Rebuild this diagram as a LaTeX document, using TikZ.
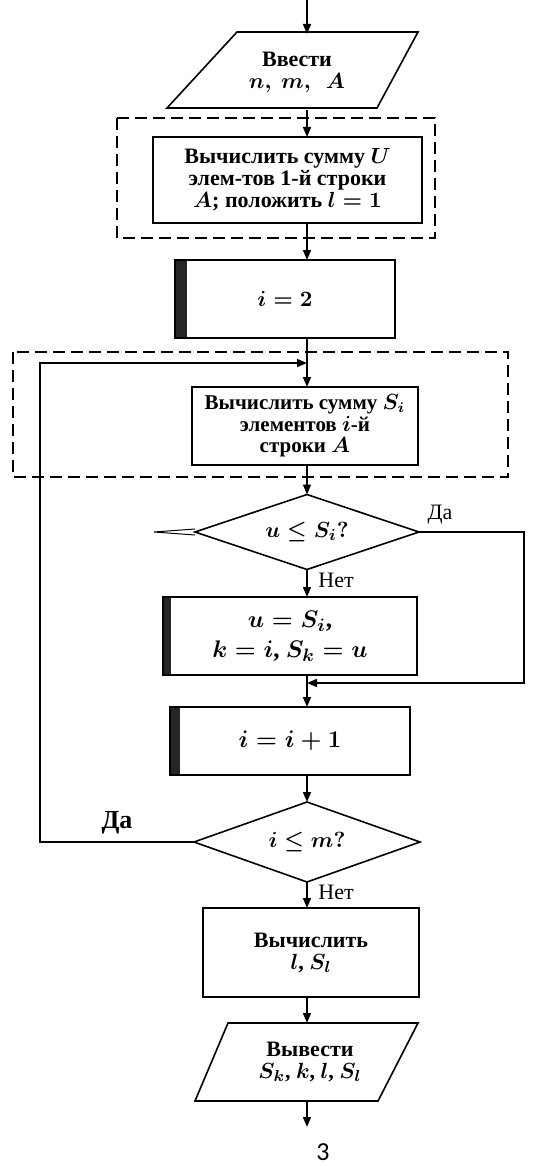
\documentclass[tikz,border=0pt]{standalone}
\usepackage{fontspec}
\setmainfont{Liberation Serif}
\newfontfamily\pagefont{Carlito}
\usepackage{amsmath,amssymb}
\usetikzlibrary{positioning,calc,arrows.meta,shapes.geometric}

\begin{document}
\begin{tikzpicture}[x=0.5pt, y=-0.5pt, ->, >={Triangle[length=5pt,width=4pt]}, line width=0.8pt, every node/.style={font=\fontsize{11}{11}\selectfont\bfseries\boldmath}, blk/.style={rectangle, draw, align=center, inner sep=0pt, outer sep=0pt}, dark/.style={blk, path picture={\fill[black!85] (path picture bounding box.north west) rectangle ([xshift=#1]path picture bounding box.south west);}}, dark/.default=4pt, cond/.style={diamond, draw, aspect=3, inner sep=0pt, outer sep=0pt}, frame/.style={-, draw, line width=0.6pt, dash pattern=on 6pt off 3pt}, lbl/.style={font=\fontsize{11}{11}\selectfont}, big/.style={font=\fontsize{12.5}{13}\selectfont\bfseries\boldmath}]

\useasboundingbox (0,0) rectangle (533,1166);
\coordinate (spine) at (307,0);
\coordinate (start) at (307,0);
\coordinate (loop1) at (307,363);
\coordinate (merge1) at (307,683);
\coordinate (stop) at (307,1127);

\draw[frame] (117,118) rectangle (435,238);
\draw[frame] (13,352) rectangle (508,477);

\draw[-] (237,32) -- (418,32) -- (377,108) -- (167,108) -- cycle;
\node[align=center, minimum height=38pt, outer sep=0pt] (in1) at (297,72) {Ввести\\$n,\ m,\ \ A$};
\node[blk, minimum width=134.5pt, minimum height=43pt] (calc1) at (287.5,180) {Вычислить сумму $U$\\элем-тов 1-й строки\\$A$; положить $l=1$};
\node[dark=6pt, minimum width=110pt, minimum height=39pt] (init) at (285,299) {$i=2$};
\node[blk, minimum width=113pt, minimum height=39pt, font=\fontsize{10.5}{10.8}\selectfont\bfseries\boldmath] (sumi) at (305,426) {Вычислить сумму $S_i$\\элементов $i$-й\\строки $A$};
\node[cond, minimum width=112pt, minimum height=37.5pt] (cmp1) at (307,532) {$u\leq S_i?$};
\node[dark, big, minimum width=127pt, minimum height=39pt] (upd) at (290,636) {$u=S_i$,\\[2pt]$k=i$, $S_k=u$};
\node[dark=5pt, big, minimum width=120pt, minimum height=34pt] (inc) at (290,741) {$i=i+1$};
\node[cond, minimum width=113pt, minimum height=40pt] (cmp2) at (307,842) {$i\leq m?$};
\node[blk, minimum width=108pt, minimum height=44.5pt] (res) at (311,952.5) {Вычислить\\$l$, $S_l$};
\draw[-] (228,1023) -- (418,1023) -- (378,1101) -- (195,1101) -- cycle;
\node[align=center, minimum height=39pt, outer sep=0pt] (out1) at (310,1062) {Вывести\\$S_k$, $k$, $l$, $S_l$};
\node[font=\fontsize{13}{13}\pagefont] (page) at (323,1152) {3};

\path
 (start) edge (in1.north -| spine)
 (in1.south -| spine) edge (calc1.north -| spine)
 (calc1.south -| spine) edge (init.north -| spine)
 (init.south -| spine) edge (sumi.north -| spine)
 (sumi.south -| spine) edge (cmp1.north)
 (cmp1.south) edge node[lbl, right=2pt, pos=0.4] {Нет} (upd.north -| spine)
 (upd.south -| spine) edge (inc.north -| spine)
 (inc.south -| spine) edge (cmp2.north)
 (cmp2.south) edge node[lbl, right=2pt, pos=0.4] {Нет} (res.north -| spine)
 (res.south -| spine) edge (out1.north -| spine)
 (out1.south -| spine) edge (stop);

\draw (cmp1.east) -- node[lbl, above, pos=0.2] {Да} ++(105,0) |- (merge1);
\draw (cmp2.west) -- node[above, pos=0.5, font=\fontsize{13}{13}\selectfont\bfseries] {Да} ++(-154,0) |- (loop1);
\draw[-, line width=0.5pt] (cmp1.west) ++(0,-3) -- ++(-41,3) -- ++(41,3);
\end{tikzpicture}
\end{document}
